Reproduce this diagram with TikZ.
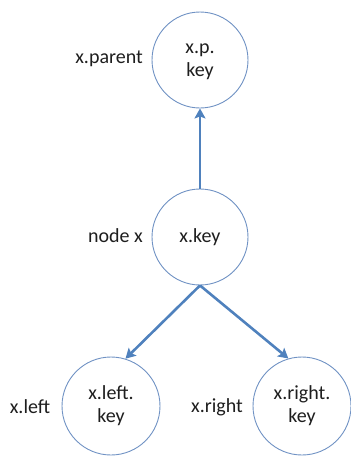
\documentclass[tikz,border=0pt]{standalone}
\usepackage{fontspec}
\setmainfont{Carlito}
\usetikzlibrary{arrows.meta}
\definecolor{ring}{RGB}{112,146,196}
\definecolor{arrowblue}{RGB}{79,129,189}
\definecolor{txt}{RGB}{30,30,30}
\begin{document}
\begin{tikzpicture}[x=1pt,y=-1pt,
  keynode/.style={circle,draw=ring,line width=0.9pt,minimum size=96pt,inner sep=0pt,align=center,text=txt,font=\fontsize{20}{23}\selectfont,fill=white},
  lbl/.style={font=\fontsize{20}{23}\selectfont,inner sep=0pt,text=txt},
  link/.style={draw=arrowblue,line width=2.6pt,-{Stealth[length=10pt,width=11pt,inset=2pt]}}]
\useasboundingbox (0,0) rectangle (351,456);
\node[keynode] (top) at (200,60) {\raisebox{-6pt}{\begin{tabular}{@{}c@{}}x.p.\\key\end{tabular}}};
\node[keynode] (mid) at (200,237) {x.key};
\node[keynode,minimum size=98pt] (left) at (111,406) {x.left.\\key};
\node[keynode,minimum size=98pt] (right) at (302,406) {x.right.\\key};
\node[lbl,anchor=east] (lp) at (143,59) {x.parent};
\node[lbl,anchor=east] (lm) at (143,236) {node x};
\node[lbl] (ll) at (30,407) {x.left};
\node[lbl] (lr) at (217,407) {x.right};
\draw[link] (mid.north) -- (top.south);
\draw[link] (mid.south) -- (left.73);
\draw[link] (mid.south) -- (right.106);
\end{tikzpicture}
\end{document}
